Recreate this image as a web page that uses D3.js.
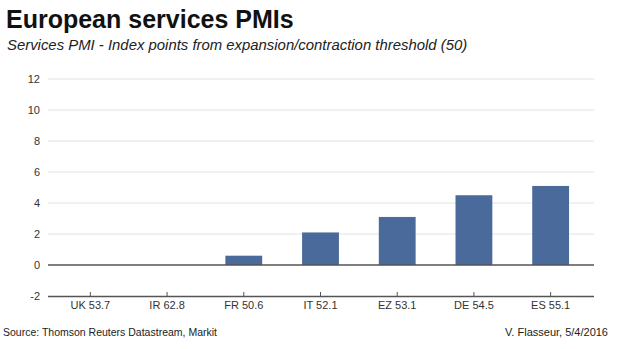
<!DOCTYPE html>
<html><head><meta charset="utf-8">
<script src="https://cdn.jsdelivr.net/npm/d3@7"></script>
<style>body{margin:0;background:#fff;} svg{display:block;font-family:"Liberation Sans",Arial,sans-serif;}</style>
</head><body>
<script>
const categories = ["UK 53.7","IR 62.8","FR 50.6","IT 52.1","EZ 53.1","DE 54.5","ES 55.1"];
const values = [null, null, 0.6, 2.1, 3.1, 4.5, 5.1];
const yTicks = [-2,0,2,4,6,8,10,12];

const W=620,H=349;
const svg=d3.select("body").append("svg").attr("width",W).attr("height",H);
const x=d3.scaleBand().domain(categories).range([52,589]).paddingInner(0.52).paddingOuter(0.26);
const y=d3.scaleLinear().domain([-2,12]).range([296,79]);

svg.append("text").attr("x",6).attr("y",28).attr("font-size",25).attr("font-weight","bold").attr("fill","#111").text("European services PMIs");
svg.append("text").attr("x",7).attr("y",50).attr("font-size",14.9).attr("font-style","italic").attr("fill","#222").text("Services PMI - Index points from expansion/contraction threshold (50)");

// gridlines
svg.append("g").selectAll("line").data(yTicks.filter(d=>d>0)).join("line")
 .attr("x1",48).attr("x2",594).attr("y1",d=>y(d)).attr("y2",d=>y(d)).attr("stroke","#e2e2e2").attr("stroke-width",1);
// y labels
svg.append("g").selectAll("text").data(yTicks).join("text")
 .attr("x",40).attr("y",d=>y(d)).attr("dy","0.35em").attr("text-anchor","end").attr("font-size",11).attr("fill","#333").text(d=>d);

// bars
svg.append("g").selectAll("rect").data(categories.map((c,i)=>({c,v:values[i]})).filter(d=>d.v!=null)).join("rect")
 .attr("x",d=>x(d.c)).attr("width",x.bandwidth()).attr("y",d=>y(Math.max(0,d.v))).attr("height",d=>Math.abs(y(d.v)-y(0)))
 .attr("fill","#4a6a9b");

// zero line
svg.append("line").attr("x1",48).attr("x2",594).attr("y1",y(0)).attr("y2",y(0)).attr("stroke","#555").attr("stroke-width",1.5);

// bottom axis
const xa=svg.append("g").attr("transform",`translate(0,${y(-2)})`).call(d3.axisBottom(x).tickSize(4).tickSizeOuter(0));
xa.select(".domain").attr("d","M48,0.5H594").attr("stroke","#555").attr("stroke-width",1.5);
xa.selectAll(".tick line").attr("stroke","#555").attr("y1",-4).attr("y2",0);
xa.selectAll(".tick text").attr("font-size",11).attr("fill","#333").attr("font-family","Liberation Sans, Arial, sans-serif").attr("y",5);

svg.append("text").attr("x",3).attr("y",336).attr("font-size",10.5).attr("fill","#222").text("Source: Thomson Reuters Datastream, Markit");
svg.append("text").attr("x",608).attr("y",336).attr("text-anchor","end").attr("font-size",11).attr("fill","#222").text("V. Flasseur, 5/4/2016");
</script>
</body></html>
